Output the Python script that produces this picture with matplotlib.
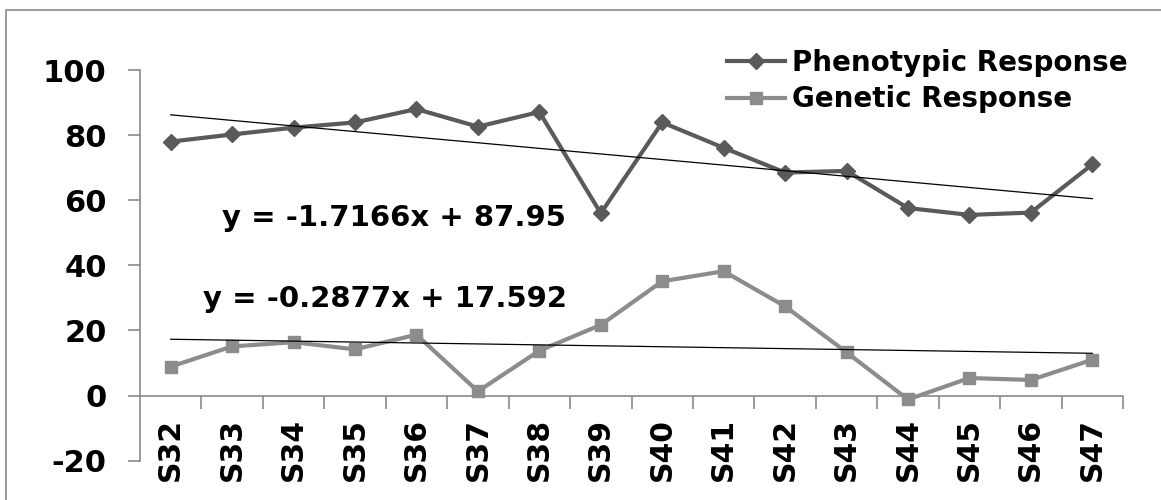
import matplotlib
matplotlib.use("Agg")
import matplotlib.pyplot as plt
from matplotlib.patches import Rectangle
import numpy as np

# Data
seasons = ["S32", "S33", "S34", "S35", "S36", "S37", "S38", "S39",
           "S40", "S41", "S42", "S43", "S44", "S45", "S46", "S47"]
phenotypic = [78.0, 80.2, 82.3, 83.9, 88.0, 82.6, 87.1, 56.0,
              83.9, 76.1, 68.5, 69.0, 57.6, 55.5, 56.2, 71.0]
genetic = [8.9, 15.1, 16.4, 14.2, 18.7, 1.3, 13.8, 21.7,
           35.1, 38.2, 27.4, 13.3, -1.2, 5.4, 4.8, 11.0]

# Linear trend coefficients (slope, intercept)
phen_trend = (-1.7166, 87.95)
gen_trend = (-0.2877, 17.592)

y_ticks = [-20, 0, 20, 40, 60, 80, 100]

plt.rcParams["font.family"] = ["DejaVu Sans"]
plt.rcParams["font.weight"] = "bold"

W, H = 1161, 500
fig = plt.figure(figsize=(W / 100, H / 100), dpi=100)

# chart area border
fig.patches.append(Rectangle((6 / W, -0.05), 1.1, 1 - 10 / H + 0.05,
                             transform=fig.transFigure, fill=False,
                             edgecolor="#8a8a8a", linewidth=1.2))

ax = fig.add_axes([140 / W, 1 - 460.7 / H, (1123 - 140) / W, (460.7 - 70) / H])

x = np.arange(1, len(seasons) + 1)
dark = "#5a5a5a"
light = "#8c8c8c"

ax.plot(x, phenotypic, color=dark, linewidth=3, marker="D", markersize=8.5,
        label="Phenotypic Response", zorder=3)
ax.plot(x, genetic, color=light, linewidth=3, marker="s", markersize=9,
        label="Genetic Response", zorder=3)

xt = np.array([x[0], x[-1]])
ax.plot(xt, phen_trend[0] * xt + phen_trend[1], color="black", linewidth=0.9, zorder=4)
ax.plot(xt, gen_trend[0] * xt + gen_trend[1], color="black", linewidth=0.9, zorder=4)

ax.text(1.83, 52.2, f"y = {phen_trend[0]}x + {phen_trend[1]}", fontsize=21,
        fontweight="bold", ha="left", va="baseline")
ax.text(1.53, 27.2, f"y = {gen_trend[0]}x + {gen_trend[1]}", fontsize=21,
        fontweight="bold", ha="left", va="baseline")

ax.set_xlim(0.5, len(seasons) + 0.5)
ax.set_ylim(-20, 100)

for s in ["top", "right"]:
    ax.spines[s].set_visible(False)
ax.spines["left"].set_color("#8a8a8a")
ax.spines["left"].set_linewidth(1.2)
ax.spines["bottom"].set_position(("data", 0))
ax.spines["bottom"].set_color("#8a8a8a")
ax.spines["bottom"].set_linewidth(1.2)

ax.set_yticks(y_ticks)
ax.set_yticklabels([str(v) for v in y_ticks])
ax.tick_params(axis="y", direction="out", length=9, width=1.2, color="#8a8a8a",
               pad=15, labelsize=22)

# category boundaries as ticks, names centred between them
ax.set_xticks(np.arange(1.5, len(seasons) + 0.6, 1.0))
ax.set_xticklabels([])
ax.tick_params(axis="x", which="major", direction="out", length=9.5, width=1.2,
               color="#8a8a8a")
ax.set_xticks(x, minor=True)
ax.set_xticklabels(seasons, minor=True, rotation=90, fontsize=21.5, fontweight="bold")
ax.tick_params(axis="x", which="minor", length=0, pad=16)

leg = ax.legend(loc="upper left", bbox_to_anchor=(727 / W, 1 - 49 / H),
                bbox_transform=fig.transFigure, frameon=False, fontsize=20,
                handlelength=2.1, handletextpad=0.25, labelspacing=0.3,
                borderpad=0, borderaxespad=0)
for t in leg.get_texts():
    t.set_fontweight("bold")

fig.savefig("out.png", dpi=100)
